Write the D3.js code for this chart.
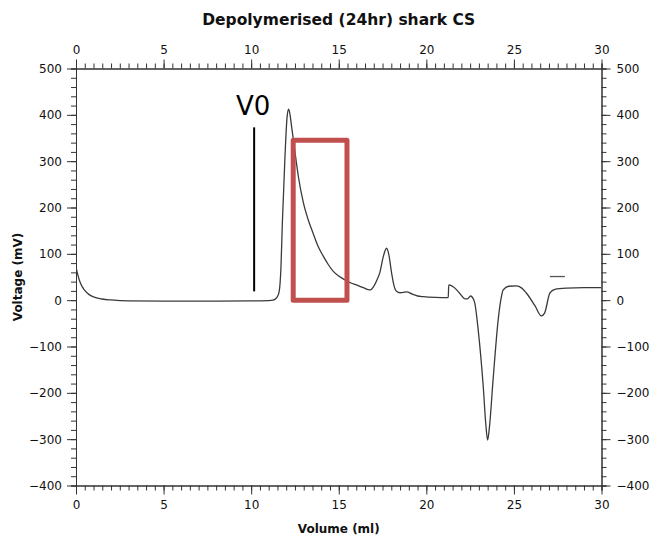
<!DOCTYPE html>
<html><head><meta charset="utf-8">
<script src="https://cdn.jsdelivr.net/npm/d3@7"></script>
<style>body{margin:0;background:#fff}svg{display:block}</style>
</head><body>
<script>
const title = "Depolymerised (24hr) shark CS";
const xLabel = "Volume (ml)";
const yLabel = "Voltage (mV)";
const xTicks = [0,5,10,15,20,25,30];
const yTicks = [-400,-300,-200,-100,0,100,200,300,400,500];
// chromatogram trace [volume ml, voltage mV]
const volume = [0,0.1,0.25,0.5,0.75,1,1.5,2,3,5,8,10,11,11.25,11.4,11.5,11.6,11.7,11.78,11.93,12.05,12.14,12.22,12.31,12.5,12.69,12.97,13.25,13.54,13.8,14.1,14.4,14.69,15.0,15.35,15.7,16.0,16.4,16.78,17.0,17.2,17.35,17.55,17.73,17.85,18.02,18.15,18.3,18.5,18.87,19.2,19.5,19.83,20.5,21.25,21.28,21.45,21.63,21.9,22.2,22.35,22.53,22.65,22.77,22.96,23.25,23.4,23.5,23.6,23.81,24.1,24.25,24.39,24.7,25.15,25.45,25.72,26.2,26.57,26.75,27.05,27.34,28,29,30];
const voltage = [72,55,37,21,12,7,2.5,0.5,-1.5,-2,-2,-1.5,-1,0,3,8,19,70,166,310,395,412,400,374,320,268,212,174,144,118,96,77,62,52,44,37,33,27,22,30,45,60,95,112,100,58,32,19,16,18,13,9,7.5,6,5.5,33,31,26,15,3,3,9,5,-7,-64,-187,-270,-302,-275,-172,-43,0,22,30,31,26,15,-12,-34,-28,15,23.5,26,27,27];
// short stray segment near 27-28 ml
const segVolume = [27.05,27.91];
const segVoltage = [51,51];
// V0 marker
const v0Volume = [10.17,10.17];
const v0Voltage = [19,373];
const v0Label = "V0";
// highlighted region (red box)
const boxVolume = [12.4,15.47];
const boxVoltage = [0,345];

const W=650,H=537;
const m={l:76,r:650-601.5,t:68.5,b:537-485.5};
const svg=d3.select("body").append("svg").attr("width",W).attr("height",H);
const x=d3.scaleLinear().domain([0,30]).range([m.l,W-m.r]);
const y=d3.scaleLinear().domain([-400,500]).range([H-m.b,m.t]);
const font="DejaVu Sans, Verdana, sans-serif";
const axCol="#333";

function styleAxis(g){
  g.selectAll("path,line").attr("stroke",axCol);
  g.selectAll("text").attr("font-family",font).attr("font-size",12).attr("fill","#111");
}
const xMinor=d3.range(0,30.01,0.5);
const yMinor=d3.range(-400,500.01,20);
// minor ticks
[[d3.axisBottom(x),H-m.b],[d3.axisTop(x),m.t]].forEach(([a,p])=>{
  const g=svg.append("g").attr("transform",`translate(0,${p})`).call(a.tickValues(xMinor).tickSize(5).tickFormat(""));
  styleAxis(g);
});
[[d3.axisLeft(y),m.l],[d3.axisRight(y),W-m.r]].forEach(([a,p])=>{
  const g=svg.append("g").attr("transform",`translate(${p},0)`).call(a.tickValues(yMinor).tickSize(5).tickFormat(""));
  styleAxis(g);
});
// major ticks
styleAxis(svg.append("g").attr("transform",`translate(0,${H-m.b})`).call(d3.axisBottom(x).tickValues(xTicks).tickSize(9).tickSizeOuter(0).tickPadding(6)));
styleAxis(svg.append("g").attr("transform",`translate(0,${m.t})`).call(d3.axisTop(x).tickValues(xTicks).tickSize(9).tickSizeOuter(0).tickPadding(6)));
styleAxis(svg.append("g").attr("transform",`translate(${m.l},0)`).call(d3.axisLeft(y).tickValues(yTicks).tickSize(9).tickSizeOuter(0).tickPadding(5)));
styleAxis(svg.append("g").attr("transform",`translate(${W-m.r},0)`).call(d3.axisRight(y).tickValues(yTicks).tickSize(9).tickSizeOuter(0).tickPadding(6)));

// trace
const pts=volume.map((v,i)=>[v,voltage[i]]);
const line=d3.line().x(d=>x(d[0])).y(d=>y(d[1])).curve(d3.curveMonotoneX);
svg.append("clipPath").attr("id","c").append("rect").attr("x",m.l).attr("y",m.t).attr("width",W-m.l-m.r).attr("height",H-m.t-m.b);
svg.append("path").datum(pts).attr("d",line).attr("fill","none").attr("stroke","#3a3a3a").attr("stroke-width",1.3).attr("clip-path","url(#c)");
svg.append("path").datum(segVolume.map((v,i)=>[v,segVoltage[i]])).attr("d",d3.line().x(d=>x(d[0])).y(d=>y(d[1]))).attr("fill","none").attr("stroke","#555").attr("stroke-width",1.3);

// V0 marker
svg.append("line").attr("x1",x(v0Volume[0])).attr("x2",x(v0Volume[1])).attr("y1",y(v0Voltage[0])).attr("y2",y(v0Voltage[1])).attr("stroke","#000").attr("stroke-width",2);
svg.append("text").attr("x",x(v0Volume[0])-1).attr("y",y(400)).attr("text-anchor","middle").attr("font-family",font).attr("font-size",26).attr("fill","#000").text(v0Label);

// red box
svg.append("rect").attr("x",x(boxVolume[0])).attr("y",y(boxVoltage[1])).attr("width",x(boxVolume[1])-x(boxVolume[0])).attr("height",y(boxVoltage[0])-y(boxVoltage[1])).attr("fill","none").attr("stroke","#c0504d").attr("stroke-width",5).attr("stroke-linejoin","round");

// titles
svg.append("text").attr("x",(m.l+W-m.r)/2).attr("y",25).attr("text-anchor","middle").attr("font-family",font).attr("font-weight","bold").attr("font-size",15.5).attr("fill","#111").text(title);
svg.append("text").attr("x",(m.l+W-m.r)/2).attr("y",533).attr("text-anchor","middle").attr("font-family",font).attr("font-weight","bold").attr("font-size",12).attr("fill","#111").text(xLabel);
svg.append("text").attr("transform",`translate(22,${(m.t+H-m.b)/2}) rotate(-90)`).attr("text-anchor","middle").attr("font-family",font).attr("font-weight","bold").attr("font-size",12).attr("fill","#111").text(yLabel);
</script>
</body></html>
